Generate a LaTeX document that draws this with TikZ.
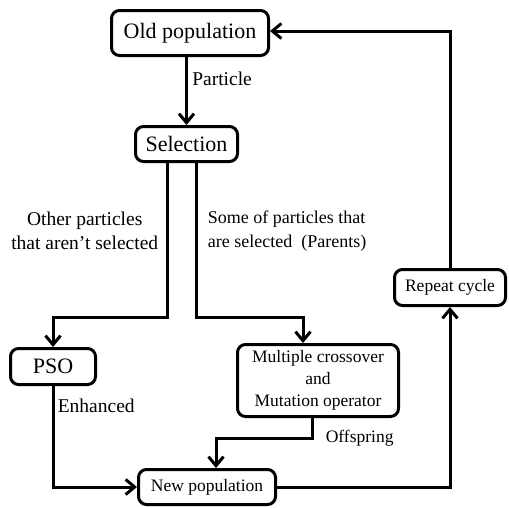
\documentclass[tikz,border=0pt]{standalone}
\usepackage{fontspec}
\setmainfont{Liberation Serif}
\usetikzlibrary{arrows.meta}

\begin{document}
\begin{tikzpicture}[x=1pt,y=-1pt,
	box/.style={draw,line width=3pt,rounded corners=8pt,align=center,inner sep=2pt},
	link/.style={line width=3pt,-{Straight Barb[length=9pt,width=15pt]}},
	lbl/.style={font=\fontsize{19.5}{24}\selectfont,align=center}]
	\useasboundingbox (0,0) rectangle (509,507);
	\foreach \N/\X/\Y/\W/\H/\F/\T in {old/190/33/157/45/22/Old population,
		sel/186.5/144/102/35/22/Selection, pso/53/366.5/85/36/22/PSO,
		mco/318/380.5/161/72/17.5/Multiple crossover\\and\\Mutation operator,
		rep/450/287.5/111/36/17.5/Repeat cycle, newp/207/487/137/35/17.5/New population}
	{\node[box,minimum width=\W pt,minimum height=\H pt,
		font=\fontsize{\F}{22}\selectfont] (\N) at (\X,\Y) {\T};}
	\draw[link] (sel.north |- old.south) -- node[lbl,right=1pt,pos=0.32]{Particle} (sel.north);
	\draw[link] ([xshift=-19.5pt]sel.south) |- node[lbl,left=4pt,pos=0.22]{Other particles\\that aren't selected}
		([yshift=30pt]pso.north) -- (pso.north);
	\draw[link] ([xshift=9.5pt]sel.south) |- node[lbl,right=7pt,pos=0.22,align=left,
		font=\fontsize{18}{24}\selectfont]{Some of particles that\\are selected~ (Parents)}
		([xshift=-15pt,yshift=26pt]mco.north) -- ([xshift=-15pt]mco.north);
	\draw[link] (pso.south) |- node[lbl,right,pos=0.1]{Enhanced} (newp.west);
	\draw[link] ([xshift=-6pt]mco.south) |- node[right=9pt,pos=0.5,font=\fontsize{17.5}{22}\selectfont]{Offspring}
		([xshift=9pt,yshift=30pt]newp.north) -- ([xshift=9pt]newp.north);
	\draw[link] (newp.east) -| (rep.south);
	\draw[link] (rep.north) |- ([yshift=2pt]old.east);
\end{tikzpicture}
\end{document}
